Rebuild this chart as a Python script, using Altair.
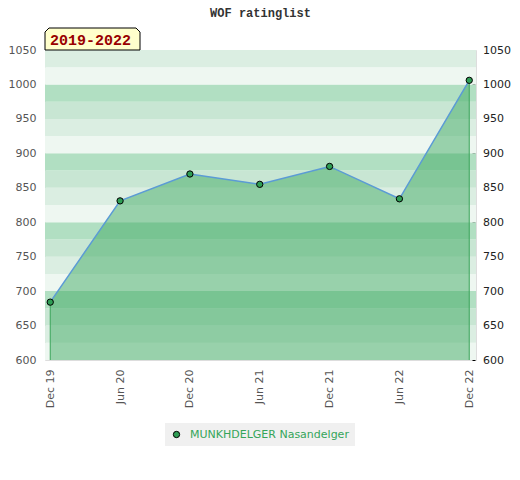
import altair as alt
import pandas as pd

# ---- data ----
months = [0, 6, 12, 18, 24, 30, 36]
month_labels = ["Dec 19", "Jun 20", "Dec 20", "Jun 21", "Dec 21", "Jun 22", "Dec 22"]
ratings = [684, 831, 870, 855, 881, 834, 1006]
player = "MUNKHDELGER Nasandelger"
period_label = "2019-2022"
chart_title = "WOF ratinglist"

y_min, y_max = 600, 1050
band_lows = list(range(600, 1050, 25))
band_tones = ["lightest", "light", "mid", "dark"]
band_colors = ["#eef7f1", "#dbeee2", "#c8e6d3", "#b1dfc2"]

df = pd.DataFrame({"month": months, "label": month_labels,
                   "rating": ratings, "player": player})
ends = df.iloc[[0, len(df) - 1]]
bands = pd.DataFrame({
    "lo": band_lows,
    "hi": [b + 25 for b in band_lows],
    "tone": [band_tones[(b % 100) // 25] for b in band_lows],
})
period_df = pd.DataFrame({"period": [period_label]})
title_df = pd.DataFrame({"title": [chart_title]})

label_expr = "[" + ",".join(f"'{l}'" for l in month_labels) + "][round(datum.value/6)]"

x_scale = alt.Scale(domain=[-0.45, 36.58], nice=False, zero=False)
y_scale = alt.Scale(domain=[y_min, y_max], nice=False, zero=False)

x_axis = alt.Axis(values=months, labelExpr=label_expr, labelAngle=270,
                  ticks=False, domain=False, grid=False, labelPadding=9,
                  labelFont="DejaVu Sans", labelFontSize=11, labelColor="#555",
                  title=None)
x_enc = alt.X("month:Q", scale=x_scale, axis=x_axis)

left_axis = alt.Axis(orient="left", values=list(range(600, 1051, 50)), format="d",
                     ticks=False, domain=False, grid=False, labelPadding=9,
                     labelFont="DejaVu Sans", labelFontSize=11, labelColor="#555",
                     title=None, labelOverlap=False)
right_axis = alt.Axis(orient="right", values=list(range(600, 1051, 10)), format="d",
                      labelExpr="datum.value % 50 == 0 ? datum.label : ''",
                      tickSize=3, tickColor="black", domain=False, grid=False,
                      offset=-4, labelPadding=7.5, labelFont="DejaVu Sans",
                      labelFontSize=11, labelColor="#222", title=None,
                      labelOverlap=False)

band_layer = alt.Chart(bands).mark_rect().encode(
    y=alt.Y("lo:Q", scale=y_scale, axis=left_axis),
    y2="hi:Q",
    fill=alt.Fill("tone:N", scale=alt.Scale(domain=band_tones, range=band_colors), legend=None),
)

area_layer = alt.Chart(df).mark_area(color="#38a65b", opacity=0.47).encode(
    x=x_enc,
    y=alt.Y("rating:Q", scale=y_scale, axis=right_axis),
    y2=alt.datum(y_min),
)

rule_layer = alt.Chart(ends).mark_rule(color="#3aa55a", strokeWidth=1).encode(
    x=x_enc,
    y=alt.Y("rating:Q", scale=y_scale, axis=None),
    y2=alt.datum(y_min),
)

line_layer = alt.Chart(df).mark_line(color="#5b9bd5", strokeWidth=1.5).encode(
    x=x_enc,
    y=alt.Y("rating:Q", scale=y_scale, axis=None),
)

point_layer = alt.Chart(df).mark_point(filled=True, size=40, stroke="black",
                                       strokeWidth=1, opacity=1).encode(
    x=x_enc,
    y=alt.Y("rating:Q", scale=y_scale, axis=None),
    color=alt.Color("player:N", scale=alt.Scale(domain=[player], range=["#2f9e55"]),
                    legend=alt.Legend(title=None, orient="none", legendX=120, legendY=373,
                                      fillColor="#f0f0f0", padding=6,
                                      labelColor="#35a55a", labelFont="DejaVu Sans",
                                      labelFontSize=11, labelLimit=400,
                                      symbolStrokeColor="black",
                                      symbolStrokeWidth=1, symbolSize=40,
                                      labelOffset=8, symbolType="circle")),
)

h = 11 / 47.5
c = 4 / 47.5
box_path = (f"M -1 {h} L -1 {-h + c} L {-1 + c} {-h} L {1 - c} {-h} "
            f"L 1 {-h + c} L 1 {h} Z")
box_layer = alt.Chart(period_df).mark_point(
    shape=box_path, size=95 * 95, filled=True, fill="#ffffcc", stroke="black",
    strokeWidth=1, opacity=1,
).encode(x=alt.value(47.5), y=alt.value(-11))

text_layer = alt.Chart(period_df).mark_text(
    font="Liberation Mono", fontWeight="bold", fontSize=15, color="#990000",
    align="center", baseline="middle",
).encode(text="period:N", x=alt.value(45.5), y=alt.value(-10.5))

title_layer = alt.Chart(title_df).mark_text(
    font="Liberation Mono", fontWeight="bold", fontSize=12, color="#333",
    align="center", baseline="alphabetic",
).encode(text="title:N", x=alt.value(215.5), y=alt.value(-33))

chart = alt.layer(
    band_layer, area_layer, rule_layer, line_layer, point_layer, box_layer,
    text_layer, title_layer
).resolve_axis(y="independent").properties(
    width=431,
    height=310,
    padding={"left": 37, "top": 42, "right": 35, "bottom": 100},
    autosize=alt.AutoSizeParams(type="none"),
).configure_view(stroke="#d9d9d9", strokeWidth=1).configure(background="white")

chart.save("out.html", embed_options={"renderer": "svg", "actions": False})
